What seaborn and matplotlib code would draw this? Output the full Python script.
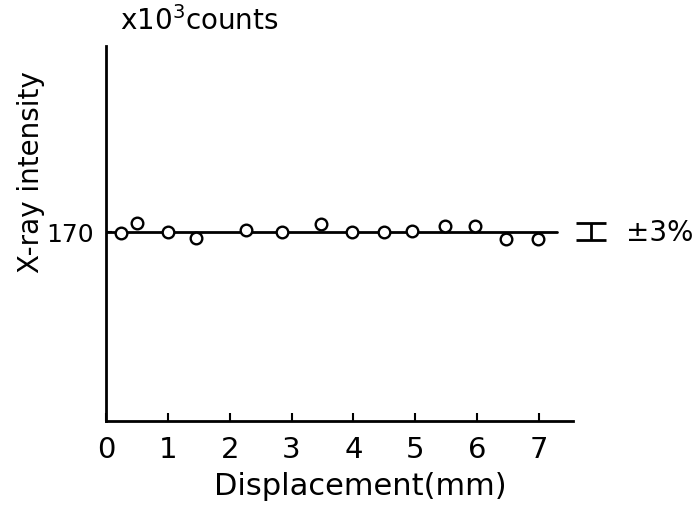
import matplotlib
matplotlib.use("Agg")
import matplotlib.pyplot as plt
import seaborn as sns
import pandas as pd

# Data
displacement = [0.25, 0.5, 1.0, 1.45, 2.27, 2.85, 3.48, 3.98, 4.5, 4.95, 5.48, 5.97, 6.47, 6.98]
intensity = [169.5, 175.4, 170.0, 166.4, 171.2, 170.0, 174.8, 170.0, 170.0, 170.5, 173.6, 173.6, 165.8, 165.8]
ref_x = [0.0, 7.3]
ref_y = [170.0, 170.0]
x_ticks = [0, 1, 2, 3, 4, 5, 6, 7]
y_ticks = [170]
err_x = 7.85
err_pct = 3.0

sns.set_theme(style="ticks")
plt.rcParams['font.family'] = ['DejaVu Sans']

fig = plt.figure(figsize=(6.97, 5.10), dpi=100)
ax = fig.add_axes([0.152, 0.1725, 0.67, 0.735])

df = pd.DataFrame({"x": displacement, "y": intensity})
sns.lineplot(x=ref_x, y=ref_y, ax=ax, color="black", linewidth=2.0)
sns.scatterplot(data=df, x="x", y="y", ax=ax, s=70, facecolor="white",
                edgecolor="black", linewidth=1.7, zorder=3)

ax.set_xlim(0, 7.55)
ax.set_ylim(57, 281)
ax.set_xticks(x_ticks)
ax.set_xticklabels([str(t) for t in x_ticks])
ax.set_yticks(y_ticks)
ax.set_yticklabels([str(t) for t in y_ticks])

for s in ["top", "right"]:
    ax.spines[s].set_visible(False)
for s in ["left", "bottom"]:
    ax.spines[s].set_linewidth(2.0)
    ax.spines[s].set_color("black")

ax.tick_params(axis="x", direction="in", length=6, width=1.5, labelsize=21, pad=10,
               colors="black", labelcolor="black")
ax.tick_params(axis="y", direction="in", length=4, width=1.5, labelsize=18, pad=9,
               colors="black", labelcolor="black")

ax.set_xlabel("Displacement(mm)", fontsize=22, color="black")
ax.xaxis.set_label_coords(0.545, -0.133)
ax.set_ylabel("X-ray intensity", fontsize=20, color="black")
ax.yaxis.set_label_coords(-0.13, 0.667)

# ±3% error bar symbol
err = 170 * err_pct / 100
ax.errorbar([err_x], [170], yerr=[err], fmt="none", ecolor="black",
            elinewidth=2.0, capsize=11, capthick=2.0, clip_on=False)
ax.text(8.4, 170, "±3%", fontsize=20, va="center", ha="left", color="black", clip_on=False)

fig.text(0.172, 0.958, r"x10$^{3}$counts", fontsize=20, va="center", ha="left", color="black")

fig.savefig("out.png", dpi=100, facecolor="white")
